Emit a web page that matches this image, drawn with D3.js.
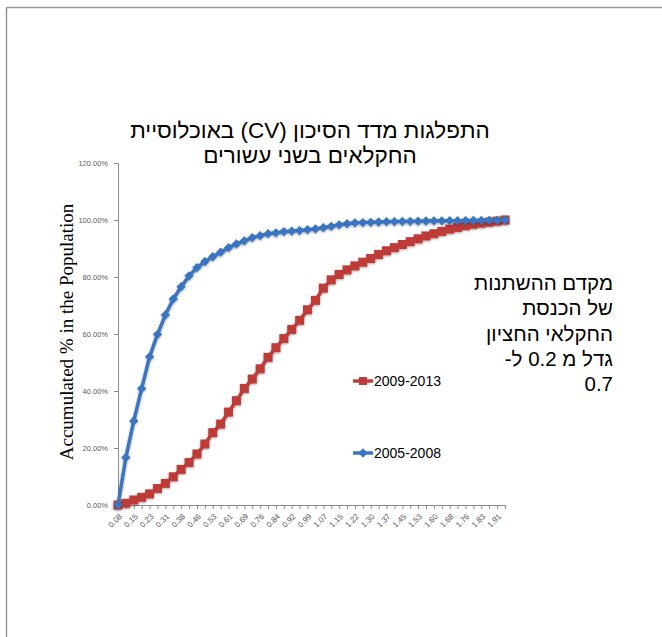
<!DOCTYPE html>
<html>
<head>
<meta charset="utf-8">
<script src="https://cdn.jsdelivr.net/npm/d3@7"></script>
<style>
  body { margin: 0; background: #fff; }
  svg text { font-family: "Liberation Sans", Arial, sans-serif; }
</style>
</head>
<body>
<div id="chart"></div>
<script>
var width = 662,
    height = 637;

// tick labels shown on every second category
var xLabels = ["0.08", "0.15", "0.23", "0.31", "0.38", "0.46", "0.53", "0.61", "0.69",
    "0.76", "0.84", "0.92", "0.99", "1.07", "1.15", "1.22", "1.30", "1.37", "1.45",
    "1.53", "1.60", "1.68", "1.76", "1.83", "1.91"];

var yTicks = [0, 0.2, 0.4, 0.6, 0.8, 1.0, 1.2];

// accumulated share (50 categories)
var series0508 = [0, 16.7, 29.5, 40.9, 52.0, 59.9, 66.7, 72.3, 76.6, 80.4,
    83.3, 85.4, 87.1, 88.7, 90.3, 91.6, 92.7, 93.8, 94.5, 95.2,
    95.5, 95.9, 96.1, 96.3, 96.6, 96.9, 97.3, 97.8, 98.3, 98.7,
    99.0, 99.1, 99.2, 99.3, 99.4, 99.45, 99.5, 99.55, 99.6, 99.65,
    99.7, 99.72, 99.75, 99.78, 99.8, 99.83, 99.86, 99.9, 99.95, 100];

var series0913 = [0, 0.6, 1.75, 2.7, 3.9, 5.8, 7.6, 9.9, 12.5, 14.9,
    17.9, 21.4, 25.4, 28.4, 32.6, 36.6, 40.9, 44.2, 47.8, 51.8,
    55.2, 58.4, 61.6, 64.8, 68.5, 71.8, 76.1, 79.0, 80.9, 82.5,
    83.9, 85.2, 86.5, 87.9, 89.2, 90.3, 91.4, 92.4, 93.4, 94.4,
    95.2, 96.0, 96.8, 97.4, 98.0, 98.5, 98.9, 99.25, 99.6, 100];

var titleLines = ["התפלגות מדד הסיכון (CV) באוכלוסיית", "החקלאים בשני עשורים"];
var noteLines = ["מקדם ההשתנות", "של הכנסת", "החקלאי החציון", "גדל מ 0.2 ל-", "0.7"];

var blue = "#3a74c2",
    red = "#be3b37",
    axisGray = "#8c8c8c";

var svg = d3.select("#chart").append("svg")
    .attr("width", width)
    .attr("height", height);

var defs = svg.append("defs");
var glow = defs.append("filter").attr("id", "glow")
    .attr("x", "-20%").attr("y", "-20%").attr("width", "140%").attr("height", "140%");
glow.append("feDropShadow")
    .attr("dx", 0).attr("dy", 1)
    .attr("stdDeviation", 1.3)
    .attr("flood-color", "#000")
    .attr("flood-opacity", 0.35);

// page frame
svg.append("line").attr("x1", 6.5).attr("x2", width).attr("y1", 7.5).attr("y2", 7.5)
    .attr("stroke", "#999").attr("stroke-width", 1.5);
svg.append("line").attr("x1", 6.5).attr("x2", 6.5).attr("y1", 7.5).attr("y2", height)
    .attr("stroke", "#999").attr("stroke-width", 1.5);

var idx = d3.range(series0508.length);

var x = d3.scalePoint()
    .domain(idx)
    .range([118, 505]);

var y = d3.scaleLinear()
    .domain([0, 1.2])
    .range([505, 163]);

// y axis
var yAxis = svg.append("g")
    .attr("transform", "translate(118,0)")
    .call(d3.axisLeft(y).tickValues(yTicks).tickSize(4).tickPadding(6).tickFormat(d3.format(".2%")));
yAxis.select(".domain").attr("stroke", axisGray);
yAxis.selectAll(".tick line").attr("stroke", axisGray);
yAxis.selectAll(".tick text")
    .attr("fill", "#595959")
    .style("font-size", "7.5px");

// x axis
var xAxis = svg.append("g")
    .attr("transform", "translate(0,505)")
    .call(d3.axisBottom(x).tickSize(4).tickSizeOuter(0).tickFormat(function(d) {
        return d % 2 === 0 ? xLabels[d / 2] : "";
    }));
xAxis.select(".domain").attr("stroke", axisGray);
xAxis.selectAll(".tick line").attr("stroke", axisGray);
xAxis.selectAll(".tick text")
    .attr("fill", "#595959")
    .style("font-size", "8px")
    .attr("text-anchor", "end")
    .attr("x", 0)
    .attr("y", 0)
    .attr("dy", "0.35em")
    .attr("transform", "translate(2,10) rotate(-45)");

// y axis title
svg.append("text")
    .attr("transform", "translate(73,332) rotate(-90)")
    .attr("text-anchor", "middle")
    .style("font-family", "'Liberation Serif', 'Times New Roman', serif")
    .style("font-size", "19px")
    .attr("fill", "#000")
    .text("Accumulated % in the Population");

// lines
var line = d3.line()
    .x(function(d, i) { return x(i); })
    .y(function(d) { return y(d / 100); });

var gRed = svg.append("g").attr("filter", "url(#glow)");
gRed.append("path")
    .datum(series0913)
    .attr("d", line)
    .attr("fill", "none")
    .attr("stroke", red)
    .attr("stroke-width", 3.5);
gRed.selectAll(".sq")
    .data(series0913)
    .enter().append("rect")
    .attr("class", "sq")
    .attr("x", function(d, i) { return x(i) - 4.5; })
    .attr("y", function(d) { return y(d / 100) - 4.5; })
    .attr("width", 9)
    .attr("height", 9)
    .attr("fill", red);

var diamond = d3.symbol().type(d3.symbolDiamond2).size(55);

var gBlue = svg.append("g").attr("filter", "url(#glow)");
gBlue.append("path")
    .datum(series0508)
    .attr("d", line)
    .attr("fill", "none")
    .attr("stroke", blue)
    .attr("stroke-width", 3.5);
gBlue.selectAll(".dm")
    .data(series0508)
    .enter().append("path")
    .attr("class", "dm")
    .attr("d", diamond)
    .attr("transform", function(d, i) { return "translate(" + x(i) + "," + y(d / 100) + ")"; })
    .attr("fill", blue);

// legend
var legend = [
    { name: "2009-2013", color: red, y: 381, shape: "square" },
    { name: "2005-2008", color: blue, y: 453, shape: "diamond" }
];
var lg = svg.selectAll(".legend")
    .data(legend)
    .enter().append("g")
    .attr("class", "legend")
    .attr("transform", function(d) { return "translate(353," + d.y + ")"; });
lg.append("line")
    .attr("x1", 0).attr("x2", 20)
    .attr("stroke", function(d) { return d.color; })
    .attr("stroke-width", 3.5);
lg.append("path")
    .attr("d", function(d) {
        return d.shape === "square" ? "M-4,-4h8v8h-8z" : diamond();
    })
    .attr("transform", "translate(10,0)")
    .attr("fill", function(d) { return d.color; });
lg.append("text")
    .attr("x", 21)
    .attr("y", 5)
    .style("font-size", "14px")
    .attr("fill", "#000")
    .text(function(d) { return d.name; });

// title
svg.append("g").selectAll("text")
    .data(titleLines)
    .enter().append("text")
    .attr("x", 310)
    .attr("y", function(d, i) { return 138 + i * 25; })
    .attr("text-anchor", "middle")
    .attr("direction", "rtl")
    .style("font-size", "22.5px")
    .attr("fill", "#000")
    .text(function(d) { return d; });

// note on the right
svg.append("g").selectAll("text")
    .data(noteLines)
    .enter().append("text")
    .attr("x", 613)
    .attr("y", function(d, i) { return 290 + i * 25.3; })
    .attr("text-anchor", "start")
    .attr("direction", "rtl")
    .style("font-size", "20.5px")
    .attr("fill", "#000")
    .text(function(d) { return d; });
</script>
</body>
</html>
